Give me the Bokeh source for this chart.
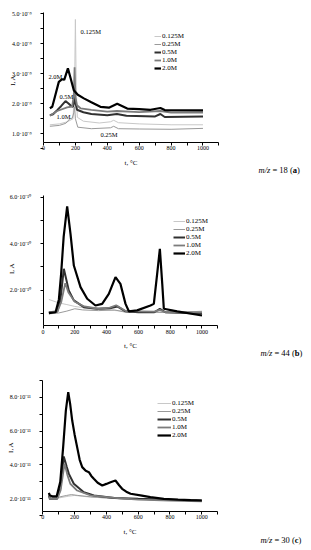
from bokeh.plotting import figure
from bokeh.models import FixedTicker, Label, Legend, LegendItem, Range1d, LinearAxis
from bokeh.layouts import column
from bokeh.embed import file_html
from bokeh.resources import INLINE

FONT = "Liberation Serif"
SERIES = ["0.125M", "0.25M", "0.5M", "1.0M", "2.0M"]
X_TICKS = [0, 200, 400, 600, 800, 1000]
X_MINOR = [100, 300, 500, 700, 900, 1100]

# ---- panel (a) m/z = 18, values in 1e-9 A
A_T_0125 = [40, 100, 150, 185, 195, 200, 205, 212, 250, 350, 420, 440, 470, 600, 800, 1000]
A_0125 = [1.30, 1.33, 1.40, 1.50, 2.6, 4.81, 2.6, 1.55, 1.42, 1.36, 1.40, 1.45, 1.37, 1.33, 1.30, 1.30]
A_T_025 = [40, 100, 140, 165, 180, 190, 195, 200, 215, 300, 420, 440, 470, 600, 800, 1000]
A_025 = [1.25, 1.28, 1.35, 1.50, 1.52, 1.7, 1.9, 1.5, 1.22, 1.17, 1.20, 1.25, 1.17, 1.16, 1.15, 1.18]
A_T_05 = [40, 60, 86, 110, 138, 155, 169, 185, 192, 197, 202, 210, 250, 300, 400, 460, 520, 700, 733, 760, 1000]
A_05 = [1.62, 1.65, 1.79, 1.92, 2.09, 2.02, 1.95, 1.90, 2.05, 2.25, 2.0, 1.80, 1.72, 1.66, 1.62, 1.66, 1.60, 1.58, 1.66, 1.56, 1.58]
A_T_10 = [40, 86, 148, 180, 190, 195, 200, 210, 232, 300, 400, 460, 600, 733, 800, 1000]
A_10 = [1.60, 1.76, 1.88, 1.91, 2.3, 3.22, 2.2, 1.95, 1.85, 1.80, 1.74, 1.76, 1.72, 1.76, 1.71, 1.71]
A_T_20 = [40, 55, 70, 96, 117, 130, 153, 170, 190, 215, 253, 300, 357, 410, 462, 525, 600, 671, 733, 760, 1000]
A_20 = [1.85, 1.9, 2.2, 2.73, 2.82, 2.80, 3.18, 2.85, 2.45, 2.30, 2.18, 2.05, 1.90, 1.87, 2.0, 1.84, 1.82, 1.80, 1.86, 1.79, 1.78]
A_YTICKS = [1, 2, 3, 4, 5]
A_YLABELS = ["1.0·10⁻⁹", "2.0·10⁻⁹", "3.0·10⁻⁹", "4.0·10⁻⁹", "5.0·10⁻⁹"]

# ---- panel (b) m/z = 44, values in 1e-10 A
B_T_0125 = [37, 100, 150, 200, 300, 400, 500, 700, 900, 1000]
B_0125 = [1.6, 1.45, 1.38, 1.30, 1.2, 1.15, 1.1, 1.07, 1.05, 1.1]
B_T_025 = [37, 100, 150, 200, 250, 350, 450, 520, 700, 1000]
B_025 = [0.98, 1.02, 1.1, 1.2, 1.15, 1.12, 1.15, 1.05, 1.05, 1.0]
B_T_05 = [37, 90, 110, 131, 145, 162, 194, 257, 341, 420, 467, 519, 600, 700, 735, 770, 1000]
B_05 = [1.05, 1.08, 1.6, 2.92, 2.5, 1.99, 1.56, 1.27, 1.20, 1.22, 1.30, 1.09, 1.05, 1.05, 1.2, 1.05, 1.0]
B_T_10 = [37, 90, 115, 140, 160, 200, 260, 350, 420, 460, 520, 700, 735, 770, 1000]
B_10 = [1.05, 1.08, 1.5, 2.3, 1.9, 1.5, 1.3, 1.2, 1.25, 1.35, 1.1, 1.08, 1.15, 1.05, 1.05]
B_T_20 = [37, 79, 100, 114, 130, 152, 173, 194, 236, 278, 330, 372, 414, 456, 487, 519, 540, 592, 676, 697, 718, 735, 750, 760, 844, 1000]
B_20 = [1.01, 1.05, 1.6, 2.7, 4.3, 5.60, 4.42, 3.06, 2.13, 1.63, 1.34, 1.41, 1.84, 2.56, 2.27, 1.41, 1.09, 1.13, 1.34, 1.41, 2.70, 3.78, 2.27, 1.2, 1.09, 0.91]
B_YTICKS = [2, 4, 6]
B_YLABELS = ["2.0·10⁻¹⁰", "4.0·10⁻¹⁰", "6.0·10⁻¹⁰"]

# ---- panel (c) m/z = 30, values in 1e-11 A
C_T_0125 = [38, 100, 160, 200, 250, 300, 400, 500, 700, 1000]
C_0125 = [1.95, 2.05, 2.15, 2.2, 2.15, 2.1, 2.05, 2.0, 1.95, 1.9]
C_T_025 = [38, 100, 150, 180, 220, 300, 400, 500, 700, 1000]
C_025 = [2.05, 2.1, 2.2, 2.25, 2.2, 2.12, 2.05, 2.0, 1.95, 1.85]
C_T_05 = [38, 45, 90, 110, 132, 150, 164, 195, 258, 321, 450, 600, 800, 1000]
C_05 = [2.2, 2.0, 2.0, 2.6, 4.5, 3.9, 3.47, 2.89, 2.39, 2.2, 2.05, 2.0, 1.95, 1.9]
C_T_10 = [38, 45, 90, 112, 137, 155, 173, 216, 300, 450, 600, 800, 1000]
C_10 = [2.3, 2.0, 2.0, 2.5, 4.07, 3.4, 2.89, 2.49, 2.2, 2.05, 1.95, 1.9, 1.85]
C_T_20 = [38, 45, 60, 87, 110, 128, 145, 160, 172, 185, 200, 216, 232, 248, 270, 290, 305, 321, 345, 374, 400, 426, 457, 480, 499, 525, 552, 614, 677, 761, 850, 930, 1000]
C_20 = [2.35, 2.2, 2.15, 2.14, 3.0, 5.05, 7.2, 8.29, 7.6, 6.62, 5.8, 5.05, 4.3, 3.87, 3.65, 3.57, 3.35, 3.18, 2.95, 2.79, 2.88, 2.98, 3.08, 2.80, 2.59, 2.42, 2.30, 2.20, 2.10, 2.0, 1.95, 1.92, 1.90]
C_YTICKS = [2, 4, 6, 8]
C_YLABELS = ["2.0·10⁻¹¹", "4.0·10⁻¹¹", "6.0·10⁻¹¹", "8.0·10⁻¹¹"]

STYLE = {
    "0.125M": dict(color="#c8c8c8", width=1.0),
    "0.25M": dict(color="#9a9a9a", width=1.0),
    "0.5M": dict(color="#303030", width=2.0),
    "1.0M": dict(color="#7c7c7c", width=1.8),
    "2.0M": dict(color="#000000", width=2.2),
}
BOLD_W = {"a": 0.5, "b": 0.556, "c": 0.444}


def panel(data, height, xr, yr, ybounds, yticks, ylabels, leg_loc, glyph_w, ylab_xy, tag_xy, num, letter):
    p = figure(width=311, height=height, output_backend="svg", toolbar_location=None,
               x_range=Range1d(*xr), y_range=Range1d(*yr),
               x_axis_location=None, y_axis_location=None,
               min_border=0, min_border_left=0, min_border_right=0,
               min_border_top=0, min_border_bottom=0)
    p.outline_line_color = None
    p.xgrid.visible = False
    p.ygrid.visible = False
    items = []
    for name, (t, v) in zip(SERIES, data):
        r = p.line(t, v, line_color=STYLE[name]["color"], line_width=STYLE[name]["width"])
        items.append(LegendItem(label=name, renderers=[r]))

    step = yticks[1] - yticks[0]
    minor_y = [a - 0.5 * step for a in yticks] + [yticks[-1] + 0.5 * step]
    xaxis = LinearAxis(fixed_location=ybounds[0], bounds=(0, 1100),
                       ticker=FixedTicker(ticks=X_TICKS, minor_ticks=X_MINOR),
                       axis_label="t, °C")
    yaxis = LinearAxis(fixed_location=0, bounds=ybounds,
                       ticker=FixedTicker(ticks=yticks, minor_ticks=minor_y),
                       major_label_overrides={k: s for k, s in zip(yticks, ylabels)})
    for ax in (xaxis, yaxis):
        ax.axis_line_color = "black"
        ax.axis_line_width = 1
        ax.major_tick_in = 0
        ax.major_tick_out = 3
        ax.minor_tick_in = 0
        ax.minor_tick_out = 3
        ax.major_tick_line_color = "black"
        ax.minor_tick_line_color = "black"
        ax.major_label_text_font = FONT
        ax.major_label_text_font_size = "6px"
        ax.major_label_text_color = "black"
        ax.axis_label_text_font = FONT
        ax.axis_label_text_font_size = "7px"
        ax.axis_label_text_font_style = "normal"
        ax.axis_label_text_color = "black"
    yaxis.major_label_standoff = 9
    xaxis.major_label_standoff = 1
    xaxis.axis_label_standoff = 5
    p.add_layout(xaxis, "below")
    p.add_layout(yaxis, "left")

    leg = Legend(items=items, location=leg_loc, orientation="vertical",
                 glyph_width=glyph_w, glyph_height=6, label_height=6, spacing=0,
                 padding=0, margin=0, label_standoff=1,
                 label_text_font=FONT, label_text_font_size="7px",
                 label_text_color="black",
                 border_line_alpha=0, background_fill_alpha=0)
    p.add_layout(leg)

    p.add_layout(Label(x=ylab_xy[0], y=ylab_xy[1], text="I, A", angle=1.5708,
                       text_font=FONT, text_font_size="7px", text_align="center",
                       text_baseline="middle", text_color="black"))
    fs = 8.5
    pos_letter = (1.389 + 0.25 + 2.397) * fs
    pieces = [("m/z", "italic", 0), ("= %s (" % num, "normal", (1.389 + 0.25) * fs),
              (letter, "bold", pos_letter), (")", "normal", pos_letter + BOLD_W[letter] * fs)]
    for txt, style, off in pieces:
        p.add_layout(Label(x=tag_xy[0], y=tag_xy[1], x_offset=off, text=txt, text_font=FONT,
                           text_font_size="%spx" % fs, text_font_style=style,
                           text_baseline="middle", text_align="left", text_color="black"))
    return p


pa = panel([(A_T_0125, A_0125), (A_T_025, A_025), (A_T_05, A_05), (A_T_10, A_10), (A_T_20, A_20)],
           186, (-269.6, 1680.3), (-0.757, 5.443), (0.72, 5.05), A_YTICKS, A_YLABELS,
           (154, 114), 7, (-194, 2.78), (1348, -0.223), "18", "a")
for txt, x, y in [("0.125M", 232, 4.41), ("2.0M", 31, 2.91), ("0.5M", 100, 2.24),
                  ("1.0M", 82, 1.58), ("0.25M", 357, 0.98)]:
    pa.add_layout(Label(x=x, y=y, text=txt, text_font=FONT, text_font_size="6.5px",
                        text_baseline="middle", text_color="black"))

pb = panel([(B_T_0125, B_0125), (B_T_025, B_025), (B_T_05, B_05), (B_T_10, B_10), (B_T_20, B_20)],
           178, (-267.3, 1688.7), (-1.197, 6.458), (0.48, 6.07), B_YTICKS, B_YLABELS,
           (173, 107), 12, (-194, 2.93), (1368, -0.72), "44", "b")

pc = panel([(C_T_0125, C_0125), (C_T_025, C_025), (C_T_05, C_05), (C_T_10, C_10), (C_T_20, C_20)],
           186, (-266.0, 1690.0), (-1.049, 9.925), (1.27, 8.98), C_YTICKS, C_YLABELS,
           (157, 111), 14, (-201, 5.03), (1369, -0.40), "30", "c")

layout = column(pa, pb, pc, spacing=0)
open("out.html", "w").write(file_html(layout, INLINE))
